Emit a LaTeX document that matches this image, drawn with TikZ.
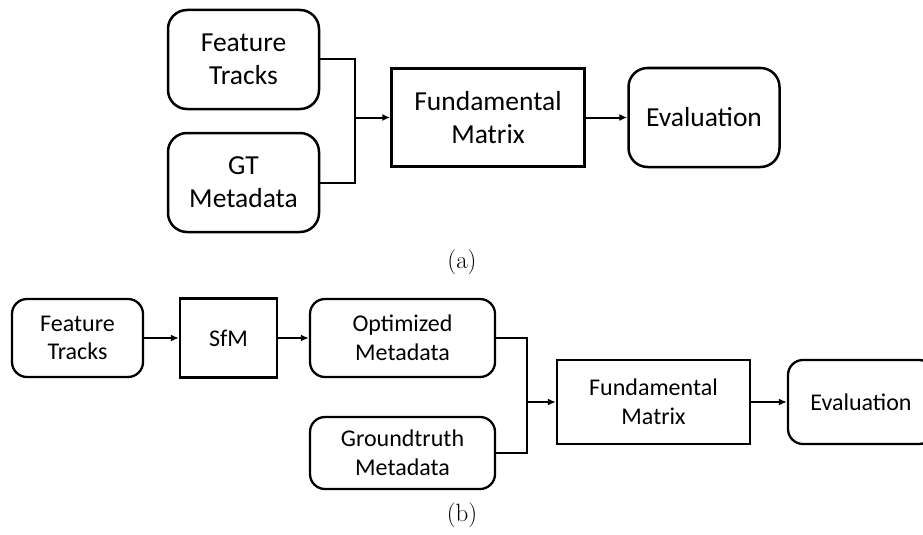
\documentclass[tikz,border=0pt]{standalone}
\usepackage{fontspec}
\setmainfont{Latin Modern Roman}
\newfontfamily\boxfont{Carlito}
\usetikzlibrary{arrows.meta}
\tikzset{
  boxa/.style={draw, line width=2.5pt, align=center, inner sep=0pt,
    font=\boxfont\fontsize{27.5}{33}\selectfont},
  boxb/.style={draw, line width=2.3pt, align=center, inner sep=0pt,
    font=\boxfont\fontsize{24}{28.5}\selectfont},
  rbox/.style={rounded corners=19pt},
  rboxb/.style={rounded corners=15pt},
  conn/.style={line width=2pt},
  arr/.style={line width=2pt, -{Latex[length=8pt,width=7pt]}},
  captxt/.style={font=\fontsize{25}{30}\selectfont}
}
\begin{document}
\begin{tikzpicture}[x=1pt,y=-1pt]
\useasboundingbox (0,0) rectangle (923,535);
% (a)
\node[boxa,rbox,minimum width=151pt,minimum height=99pt] (ft) at (243.5,59.5) {Feature\\Tracks};
\node[boxa,rbox,minimum width=151pt,minimum height=99pt] (gt) at (243.5,182.5) {GT\\Metadata};
\node[boxa,minimum width=193pt,minimum height=98pt] (fm) at (488,117.5) {Fundamental\\Matrix};
\node[boxa,rbox,minimum width=151pt,minimum height=99pt] (ev) at (704,117.5) {Evaluation};
\coordinate (m1) at (355,117.5);
\draw[conn] (ft.east) -| (m1);
\draw[conn] (gt.east) -| (m1);
\draw[arr] (m1) -- (fm.west);
\draw[arr] (fm.east) -- (ev.west);
\node[captxt] (capa) at (462,262) {(a)};
% (b)
\node[boxb,rboxb,minimum width=131pt,minimum height=78pt] (ft2) at (77.5,338) {Feature\\Tracks};
\node[boxb,minimum width=97pt,minimum height=79pt] (sfm) at (228.5,338) {SfM};
\node[boxb,rboxb,minimum width=185pt,minimum height=78pt] (opt) at (402.5,338) {Optimized\\Metadata};
\node[boxb,rboxb,minimum width=185pt,minimum height=72pt] (gtm) at (402.5,453) {Groundtruth\\Metadata};
\node[boxb,minimum width=193pt,minimum height=84pt] (fm2) at (653.5,402) {Fundamental\\Matrix};
\node[boxb,rboxb,minimum width=146pt,minimum height=84pt] (ev2) at (861,402) {Evaluation};
\coordinate (m2) at (527,402);
\draw[arr] (ft2.east) -- (sfm.west);
\draw[arr] (sfm.east) -- (opt.west);
\draw[conn] (opt.east) -| (m2);
\draw[conn] (gtm.east) -| (m2);
\draw[arr] (m2) -- (fm2.west);
\draw[arr] (fm2.east) -- (ev2.west);
\node[captxt] (capb) at (462,515) {(b)};
\end{tikzpicture}
\end{document}
